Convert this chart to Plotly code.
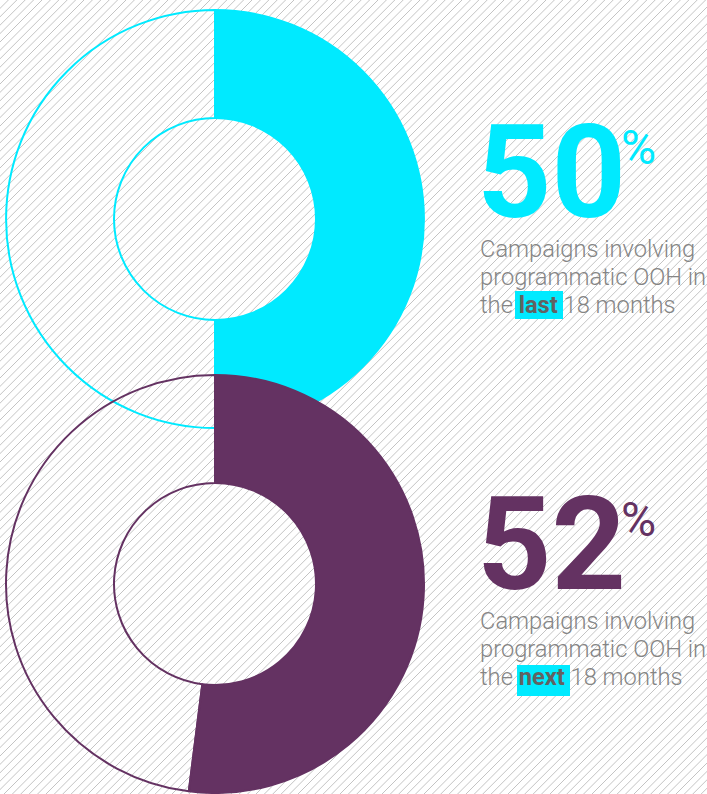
import plotly.graph_objects as go

W, H = 707, 794

# --- data -------------------------------------------------------------
slice_labels = ["Involving programmatic OOH", "Other"]
last_values = [50, 50]
next_values = [52, 48]
last_pct = "50"
next_pct = "52"
caption_line1 = "Campaigns involving"
caption_line2 = "programmatic OOH in"
period_words = ["last", "next"]
caption_tail = "18 months"

# --- styling ----------------------------------------------------------
CYAN = "#00EAFF"
PURPLE = "#643262"
GREY_TEXT = "#858585"
BOLD_TEXT = "#626262"
HATCH = "#C4C4C4"
FONT = "Roboto"


def px_domain(cx, cy, r):
    """Pie domain (paper units) from a centre/radius given in pixels."""
    return dict(x=[(cx - r) / W, (cx + r) / W],
                y=[1 - (cy + r) / H, 1 - (cy - r) / H])


fig = go.Figure()

# diagonal hatch background drawn on a hidden pixel-space axis pair
hx, hy = [], []
step = 8.4
c = 0.0
while c < W + H + step:
    hx += [c - H, c, None]
    hy += [H, 0, None]
    c += step
fig.add_trace(go.Scatter(x=hx, y=hy, mode="lines",
                         line=dict(color=HATCH, width=1),
                         hoverinfo="skip", showlegend=False))

# the two donuts
for vals, colour, cy in [(last_values, CYAN, 219), (next_values, PURPLE, 584)]:
    fig.add_trace(go.Pie(
        labels=slice_labels, values=vals, sort=False,
        direction="clockwise", rotation=0, hole=101 / 209,
        marker=dict(colors=[colour, "rgba(0,0,0,0)"],
                    line=dict(color=colour, width=2)),
        textinfo="none", hoverinfo="skip", showlegend=False,
        domain=px_domain(215, cy, 209),
    ))


def ann(text, x, y, size, color, weight=300, xanchor="left", yanchor="middle"):
    fig.add_annotation(text=text, x=x / W, y=1 - y / H, xref="paper", yref="paper",
                       xanchor=xanchor, yanchor=yanchor, showarrow=False,
                       font=dict(family=FONT, size=size, color=color, weight=weight))


# text blocks: (value, colour, vertical offset in px, highlight word, box)
blocks = [
    (last_pct, CYAN, 0, period_words[0], (515, 291, 563, 319)),
    (next_pct, PURPLE, 372, period_words[1], (517, 665, 570, 696)),
]
for pct, colour, dy, word, box in blocks:
    ann(pct, 475, 172 + dy, 130, colour, weight=700)
    ann("%", 619, 147 + dy, 48, colour, weight=400)
    ann(caption_line1, 478, 249 + dy, 23.7, GREY_TEXT)
    ann(caption_line2, 478, 277 + dy, 23.7, GREY_TEXT)
    ann("the <span style='color:%s'><b>%s</b></span> %s" % (BOLD_TEXT, word, caption_tail),
        478, 305 + dy, 23.7, GREY_TEXT)
    fig.add_shape(type="rect", xref="x", yref="y",
                  x0=box[0], y0=box[1], x1=box[2], y1=box[3],
                  fillcolor=CYAN, line=dict(width=0), layer="above")

fig.update_layout(
    width=W, height=H,
    margin=dict(l=0, r=0, t=0, b=0),
    paper_bgcolor="white", plot_bgcolor="white",
    xaxis=dict(range=[0, W], visible=False, fixedrange=True),
    yaxis=dict(range=[H, 0], visible=False, fixedrange=True),
    showlegend=False,
)

fig.write_html("out.html")
